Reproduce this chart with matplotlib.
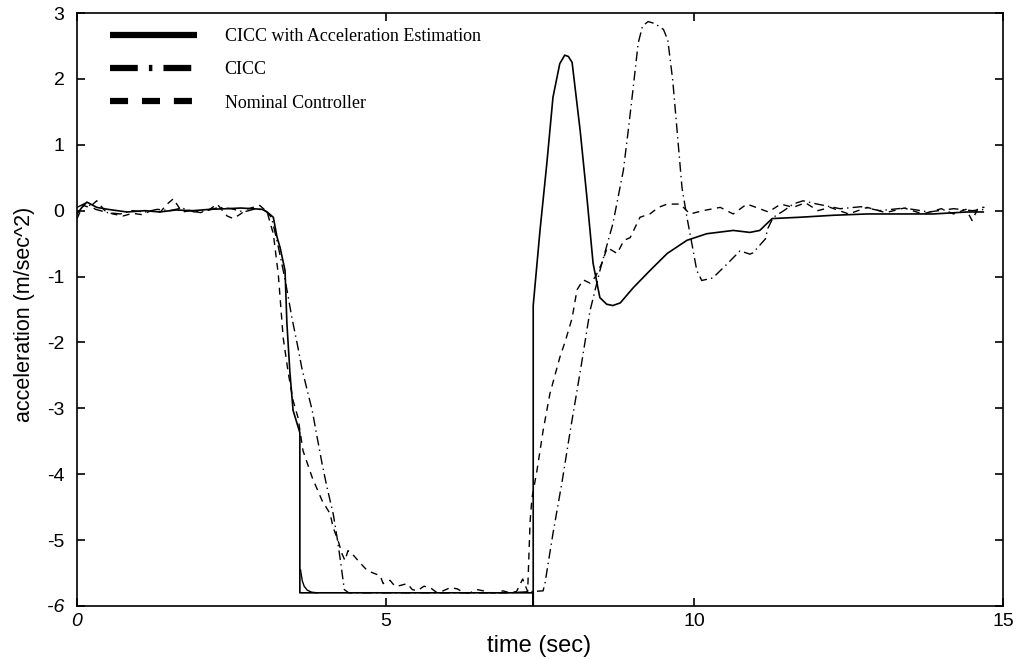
import matplotlib
matplotlib.use("Agg")
import numpy as np
import matplotlib.pyplot as plt
from matplotlib.lines import Line2D

plt.rcParams['font.family'] = ['Liberation Sans', 'DejaVu Sans']
plt.rcParams['lines.scale_dashes'] = False

# CICC with acceleration estimation (solid)
solid_t = [0.0, 0.08, 0.16, 0.32, 0.5, 0.81, 1.1, 1.34, 1.6, 1.88, 2.15, 2.43, 2.65, 2.85, 3.0,
           3.08, 3.18, 3.24, 3.29, 3.37, 3.40, 3.45, 3.50, 3.61, 3.61, 7.39, 7.39, 7.39,
           7.5, 7.61, 7.71, 7.82, 7.9, 7.96, 8.02, 8.15, 8.26, 8.36, 8.47, 8.58, 8.68, 8.8,
           9.01, 9.28, 9.56, 9.88, 10.2, 10.63, 10.9, 11.06, 11.26, 11.71, 12.25, 12.8,
           13.33, 13.87, 14.42, 14.68]
solid_a = [-0.05, 0.05, 0.13, 0.05, 0.02, -0.02, 0.0, -0.02, 0.01, 0.0, 0.02, 0.03, 0.04, 0.03, 0.02,
           -0.02, -0.1, -0.4, -0.56, -0.91, -1.71, -2.47, -3.03, -3.37, -5.8, -5.8, -6.0, -1.44,
           -0.3, 0.71, 1.72, 2.23, 2.36, 2.34, 2.25, 1.22, 0.2, -0.8, -1.32, -1.42, -1.44, -1.4,
           -1.17, -0.91, -0.65, -0.45, -0.35, -0.3, -0.33, -0.3, -0.12, -0.1, -0.07, -0.05,
           -0.05, -0.05, -0.02, -0.02]
# short settling piece of the solid curve
settle_t = [3.62, 3.65, 3.68, 3.73, 3.8, 3.89]
settle_a = [-5.45, -5.62, -5.7, -5.76, -5.79, -5.8]

# CICC (dash-dot)
cicc_t = [0, 0.15, 0.3, 0.5, 0.7, 0.9, 1.1, 1.3, 1.5, 1.7, 1.9, 2.1, 2.3, 2.5, 2.7, 2.9, 3.05,
          3.15, 3.25, 3.35, 3.42, 3.48, 3.58, 3.64, 3.73, 3.81, 3.89, 3.97, 4.05, 4.15, 4.22,
          4.28, 4.33, 4.4, 5.0, 6.0, 7.0, 7.55, 7.58, 7.71, 7.86, 7.99, 8.1, 8.18, 8.31, 8.47,
          8.68, 8.85, 8.93, 9.01, 9.09, 9.16, 9.25, 9.36, 9.5, 9.57, 9.65, 9.72, 9.8, 9.88,
          9.96, 10.04, 10.12, 10.3, 10.53, 10.74, 10.9, 10.95, 11.15, 11.19, 11.28, 11.45,
          11.6, 11.76, 11.99, 12.36, 12.7, 13.0, 13.4, 13.8, 14.2, 14.5, 14.7]
cicc_a = [0.05, 0.12, 0.02, -0.03, -0.05, 0.0, -0.02, 0.02, 0.0, 0.04, -0.02, 0.0, 0.05, 0.03, -0.02, 0.03, 0.0,
          -0.1, -0.5, -0.95, -1.3, -1.62, -2.08, -2.38, -2.73, -3.03, -3.44, -3.84, -4.2, -4.6, -5.0,
          -5.4, -5.75, -5.8, -5.8, -5.8, -5.8, -5.77, -5.66, -4.9, -4.1, -3.34, -2.73, -2.28, -1.52, -0.91,
          -0.2, 0.61, 1.22, 1.87, 2.54, 2.8, 2.87, 2.84, 2.75, 2.59, 1.98, 1.22, 0.35, -0.1,
          -0.5, -0.91, -1.06, -1.02, -0.81, -0.61, -0.66, -0.64, -0.43, -0.27, -0.1, 0.0,
          0.1, 0.15, 0.1, 0.03, 0.06, 0.0, 0.04, -0.02, 0.03, 0.0, 0.02]

# Nominal controller (dashed)
nom_t = [0, 0.1, 0.2, 0.32, 0.45, 0.58, 0.75, 0.9, 1.05, 1.2, 1.35, 1.46, 1.56, 1.7, 1.85, 2.0,
         2.15, 2.27, 2.43, 2.53, 2.65, 2.75, 2.85, 2.96, 3.08, 3.18, 3.26, 3.29, 3.34, 3.42, 3.5,
         3.58, 3.66, 3.81, 3.97, 4.1, 4.15, 4.23, 4.29, 4.34, 4.39, 4.45, 4.58, 4.7, 4.8, 4.91,
         4.96, 5.07, 5.15, 5.23, 5.35, 5.43, 5.51, 5.62, 5.72, 5.82, 5.93, 6.05, 6.16, 6.27,
         6.37, 6.48, 6.58, 6.7, 6.8, 6.9, 7.01, 7.12, 7.22, 7.3, 7.34, 7.37, 7.45, 7.55, 7.66,
         7.82, 7.91, 8.02, 8.1, 8.2, 8.31, 8.4, 8.5, 8.59, 8.75, 8.86, 8.96, 9.12, 9.28, 9.42,
         9.56, 9.77, 9.93, 10.14, 10.42, 10.63, 10.85, 11.0, 11.2, 11.4, 11.6, 11.8, 12.0, 12.2,
         12.5, 12.8, 13.1, 13.4, 13.7, 14.0, 14.2, 14.4, 14.5, 14.6, 14.7]
nom_a = [-0.12, 0.08, 0.05, 0.15, 0.0, -0.05, -0.08, -0.04, -0.06, 0.0, -0.02, 0.1, 0.18, -0.02, 0.0, -0.03,
         0.02, 0.1, -0.08, -0.12, -0.05, 0.02, 0.05, 0.08, -0.02, -0.35, -0.96, -1.32, -1.93, -2.45, -2.88,
         -3.14, -3.64, -4.05, -4.4, -4.6, -4.81, -5.01, -5.2, -5.31, -5.16, -5.2, -5.34, -5.46, -5.5, -5.54,
         -5.66, -5.61, -5.7, -5.69, -5.66, -5.75, -5.77, -5.7, -5.72, -5.79, -5.77, -5.72, -5.74, -5.8,
         -5.8, -5.75, -5.77, -5.8, -5.8, -5.77, -5.8, -5.78, -5.59, -5.78, -4.71, -4.36, -3.95, -3.34, -2.78,
         -2.23, -1.98, -1.63, -1.2, -1.05, -1.1, -1.0, -0.8, -0.56, -0.65, -0.45, -0.41, -0.1, -0.05, 0.05,
         0.1, 0.1, -0.05, 0.0, 0.05, -0.05, 0.1, 0.05, -0.02, 0.1, 0.05, 0.12, 0.0, 0.05,
         -0.05, 0.05, -0.03, 0.04, -0.05, 0.03, -0.05, 0.02, -0.15, 0.05, 0.05]

xticks = [0, 5, 10, 15]
yticks = [-6, -5, -4, -3, -2, -1, 0, 1, 2, 3]
labels = ['CICC with Acceleration Estimation', 'CICC', 'Nominal Controller']

fig = plt.figure(figsize=(10.22, 6.59), dpi=100)
ax = fig.add_axes([77 / 1022, 1 - 606 / 659, (1003 - 77) / 1022, (606 - 13) / 659])

ax.plot(solid_t, solid_a, color='black', lw=1.2, solid_joinstyle='round')
ax.plot(settle_t, settle_a, color='black', lw=1.0)
ax.plot(cicc_t, cicc_a, color='black', lw=1.0, dashes=(7, 3, 1, 3))
ax.plot(nom_t, nom_a, color='black', lw=1.0, dashes=(5, 4))

ax.set_xlim(0, 15)
ax.set_ylim(-6, 3)
ax.set_xticks(xticks)
ax.set_yticks(yticks)
ax.set_xticklabels([str(v) for v in xticks])
ax.set_yticklabels([str(v) for v in yticks])
ax.tick_params(direction='in', top=True, right=True, length=6, width=1.2,
               labelsize=14)
ax.tick_params(axis='x', pad=5)
ax.tick_params(axis='y', pad=9)
ax.get_xticklabels()[0].set_style('italic')
ax.get_yticklabels()[0].set_style('italic')
for s in ax.spines.values():
    s.set_linewidth(1.2)

fig.text(539 / 1022, 1 - 646 / 659, 'time (sec)', ha='center', va='center', fontsize=17)
fig.text(25 / 1022, 1 - 314 / 659, 'acceleration (m/sec^2)', ha='center', va='center',
         rotation=90, fontsize=15.5)

handles = [
    Line2D([], [], color='black', lw=4.5, solid_capstyle='butt'),
    Line2D([], [], color='black', lw=4.5, dashes=(20, 8, 2.5, 8), dash_capstyle='butt'),
    Line2D([], [], color='black', lw=4.5, dashes=(13, 10), dash_capstyle='butt'),
]
leg = ax.legend(handles, labels, loc='upper left', frameon=False,
                bbox_to_anchor=(110 / 1022, 1 - 28 / 659), bbox_transform=fig.transFigure,
                borderpad=0, borderaxespad=0, handlelength=4.8, handletextpad=1.55,
                labelspacing=0.9, prop={'family': 'Liberation Serif', 'size': 13})

fig.savefig('out.png', dpi=100)
